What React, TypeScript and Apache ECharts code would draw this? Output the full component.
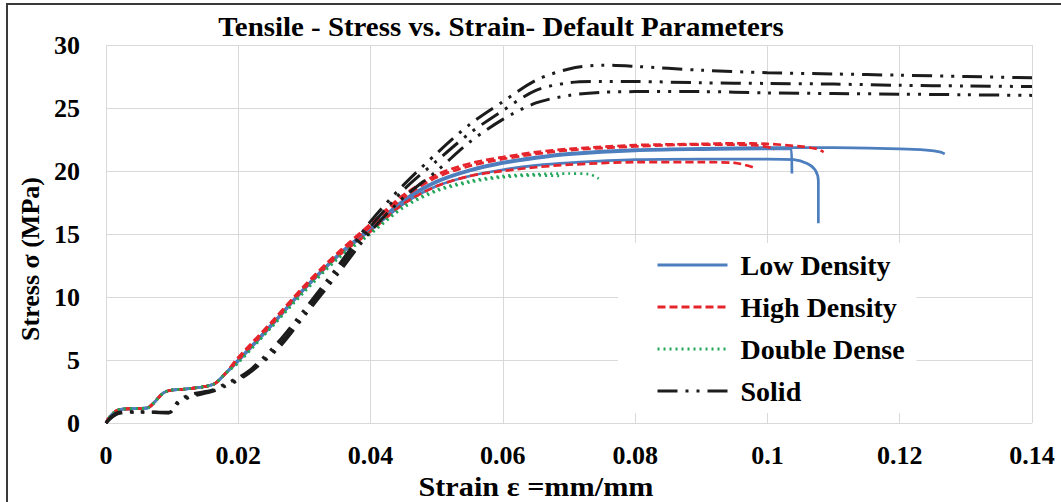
import React, { useEffect, useRef } from "react";
import * as echarts from "echarts";

type Pt = [number, number];

const xTicks = [0, 0.02, 0.04, 0.06, 0.08, 0.1, 0.12, 0.14];
const yTicks = [0, 5, 10, 15, 20, 25, 30];

const legendNames = ["Low Density", "High Density", "Double Dense", "Solid"];

// shared toe region of the coloured specimens
const colouredToe: Pt[] = [
  [0, 0], [0.0005, 0.45], [0.0015, 0.95], [0.0025, 1.1], [0.005, 1.15], [0.0063, 1.2],
  [0.0075, 1.75], [0.0087, 2.4], [0.0098, 2.6], [0.012, 2.7], [0.015, 2.9], [0.0165, 3.15], [0.018, 3.9],
];

const lowDensity1: Pt[] = [
  [0.02, 5.0], [0.025, 7.8], [0.03, 10.7], [0.035, 13.3], [0.04, 15.5], [0.045, 17.7], [0.05, 19.2],
  [0.055, 20.1], [0.06, 20.7], [0.065, 21.1], [0.07, 21.4], [0.08, 21.7], [0.09, 21.8], [0.1, 21.85],
  [0.11, 21.85], [0.12, 21.75], [0.124, 21.65], [0.1262, 21.5], [0.1268, 21.35],
];
const lowDensity2: Pt[] = [
  [0.02, 5.0], [0.025, 7.8], [0.03, 10.7], [0.035, 13.3], [0.04, 15.5], [0.045, 17.6], [0.05, 19.1],
  [0.055, 20.0], [0.06, 20.6], [0.065, 21.0], [0.07, 21.3], [0.08, 21.6], [0.09, 21.7], [0.1, 21.75],
  [0.1036, 21.75], [0.1037, 19.8],
];
const lowDensity3: Pt[] = [
  [0.02, 4.9], [0.025, 7.7], [0.03, 10.6], [0.035, 13.2], [0.04, 15.3], [0.045, 17.4], [0.05, 18.8],
  [0.055, 19.6], [0.06, 20.1], [0.065, 20.45], [0.07, 20.65], [0.08, 20.9], [0.09, 20.95], [0.1, 20.95],
  [0.104, 20.9], [0.106, 20.6], [0.1072, 20.1], [0.1077, 19.2], [0.1077, 15.85],
];

const highDensity1: Pt[] = [
  [0.02, 5.2], [0.025, 8.0], [0.03, 10.9], [0.035, 13.5], [0.04, 15.8], [0.045, 18.1], [0.05, 19.7],
  [0.055, 20.6], [0.06, 21.1], [0.065, 21.5], [0.07, 21.75], [0.08, 22.05], [0.09, 22.15], [0.095, 22.2],
  [0.1, 22.15], [0.105, 21.95], [0.1075, 21.75], [0.1085, 21.5],
];
const highDensity2: Pt[] = [
  [0.02, 5.1], [0.025, 7.9], [0.03, 10.8], [0.035, 13.4], [0.04, 15.6], [0.045, 17.9], [0.05, 19.5],
  [0.055, 20.4], [0.06, 20.95], [0.065, 21.35], [0.07, 21.65], [0.08, 21.95], [0.09, 22.1], [0.098, 22.05],
  [0.1005, 21.85], [0.101, 21.65],
];
const highDensity3: Pt[] = [
  [0.02, 5.0], [0.025, 7.8], [0.03, 10.7], [0.035, 13.2], [0.04, 15.2], [0.045, 17.4], [0.05, 18.8],
  [0.055, 19.6], [0.06, 20.0], [0.065, 20.3], [0.07, 20.5], [0.08, 20.7], [0.09, 20.7], [0.095, 20.65],
  [0.0978, 20.3],
];

const doubleDense1: Pt[] = [
  [0.02, 4.8], [0.025, 7.6], [0.03, 10.5], [0.035, 13.1], [0.04, 15.1], [0.045, 17.2], [0.05, 18.5],
  [0.055, 19.2], [0.06, 19.6], [0.065, 19.75], [0.07, 19.8], [0.073, 19.75], [0.0745, 19.4],
];
const doubleDense2: Pt[] = [
  [0.02, 4.8], [0.025, 7.6], [0.03, 10.4], [0.035, 13.0], [0.04, 15.0], [0.045, 17.1], [0.05, 18.4],
  [0.055, 19.1], [0.06, 19.5], [0.065, 19.65], [0.069, 19.6],
];

const solid1: Pt[] = [
  [0, 0], [0.001, 0.6], [0.002, 0.85], [0.005, 0.9], [0.0095, 0.85], [0.011, 1.8], [0.013, 2.3],
  [0.016, 2.6], [0.018, 3.1], [0.02, 3.6], [0.022, 4.3], [0.026, 6.4], [0.03, 9.0], [0.035, 12.4],
  [0.04, 16.0], [0.045, 18.9], [0.05, 21.4], [0.055, 23.7], [0.06, 25.5], [0.065, 27.2], [0.07, 28.1],
  [0.075, 28.4], [0.08, 28.3], [0.09, 28.0], [0.1, 27.8], [0.11, 27.7], [0.12, 27.6], [0.13, 27.5], [0.14, 27.4],
];
const solid2: Pt[] = [
  [0, 0], [0.001, 0.55], [0.002, 0.8], [0.005, 0.88], [0.0095, 0.82], [0.011, 1.7], [0.013, 2.2],
  [0.016, 2.55], [0.018, 3.0], [0.02, 3.5], [0.022, 4.2], [0.026, 6.1], [0.03, 8.7], [0.035, 12.1],
  [0.04, 15.6], [0.045, 18.5], [0.05, 20.8], [0.055, 23.0], [0.06, 24.8], [0.065, 26.4], [0.07, 27.0],
  [0.075, 27.1], [0.08, 27.1], [0.09, 27.0], [0.1, 26.95], [0.11, 26.9], [0.12, 26.8], [0.13, 26.75], [0.14, 26.7],
];
const solid3: Pt[] = [
  [0, 0], [0.001, 0.5], [0.002, 0.78], [0.005, 0.85], [0.0095, 0.8], [0.011, 1.6], [0.013, 2.1],
  [0.016, 2.5], [0.018, 2.9], [0.02, 3.4], [0.022, 4.1], [0.026, 5.9], [0.03, 8.5], [0.035, 11.8],
  [0.04, 15.2], [0.045, 17.9], [0.05, 20.0], [0.055, 22.3], [0.06, 24.1], [0.065, 25.4], [0.07, 26.0],
  [0.075, 26.25], [0.08, 26.3], [0.09, 26.3], [0.1, 26.2], [0.11, 26.15], [0.12, 26.1], [0.13, 26.05], [0.14, 26.0],
];

const FONT = '"Liberation Serif", "Times New Roman", serif';
const BLUE = "#4d7fbf";
const RED = "#e5242c";
const GREEN = "#22a65a";
const BLACK = "#1c1c1c";

export default function App() {
  const ref = useRef<HTMLDivElement>(null);

  useEffect(() => {
    document.body.style.margin = "0";
    if (!ref.current) return;
    const chart = echarts.init(ref.current, null, { renderer: "svg" });

    const mk = (name: string, data: Pt[], color: string, type: any, width: number, withToe: boolean) => ({
      name,
      type: "line",
      data: withToe ? [...colouredToe, ...data] : data,
      showSymbol: false,
      symbol: "none",
      legendIcon: "none",
      smooth: 0.3,
      color,
      lineStyle: { color, width, type, cap: "butt" },
      emphasis: { disabled: true },
    });

    const solidDash = [20, 8, 3, 8, 3, 8];

    const series = [
      mk(legendNames[0], lowDensity1, BLUE, "solid", 2.7, true),
      mk(legendNames[0], lowDensity2, BLUE, "solid", 2.7, true),
      mk(legendNames[0], lowDensity3, BLUE, "solid", 2.7, true),
      mk(legendNames[1], highDensity1, RED, [8, 4], 2.7, true),
      mk(legendNames[1], highDensity2, RED, [8, 4], 2.7, true),
      mk(legendNames[1], highDensity3, RED, [8, 4], 2.7, true),
      mk(legendNames[2], doubleDense1, GREEN, [2, 4], 2.7, true),
      mk(legendNames[2], doubleDense2, GREEN, [2, 4], 2.7, true),
      mk(legendNames[3], solid1, BLACK, solidDash, 3, false),
      mk(legendNames[3], solid2, BLACK, solidDash, 3, false),
      mk(legendNames[3], solid3, BLACK, solidDash, 3, false),
    ];

    const labelStyle = { fontFamily: FONT, fontWeight: "bold", fontSize: 26, color: "#000" };

    chart.setOption({
      animation: false,
      backgroundColor: "#fff",
      grid: { left: 106, right: 29, top: 45, bottom: 79, containLabel: false },
      xAxis: {
        type: "value",
        min: xTicks[0],
        max: xTicks[xTicks.length - 1],
        interval: 0.02,
        axisLine: { show: false },
        axisTick: { show: false },
        splitLine: { show: true, lineStyle: { color: "#d9d9d9", width: 1 } },
        axisLabel: {
          ...labelStyle,
          margin: 19,
          formatter: (v: number) => String(Number(v.toFixed(2))),
        },
      },
      yAxis: {
        type: "value",
        min: yTicks[0],
        max: yTicks[yTicks.length - 1],
        interval: 5,
        axisLine: { show: false },
        axisTick: { show: false },
        splitLine: { show: true, lineStyle: { color: "#d9d9d9", width: 1 } },
        axisLabel: { ...labelStyle, margin: 26 },
      },
      legend: {
        orient: "vertical",
        left: 618,
        top: 243,
        padding: [7, 12, 7, 38],
        backgroundColor: "#fff",
        itemWidth: 70,
        itemHeight: 14,
        itemGap: 12,
        itemStyle: { opacity: 0 },
        lineStyle: { width: 3 },
        data: legendNames,
        textStyle: { ...labelStyle, fontSize: 28, lineHeight: 30, padding: [0, 0, 0, 8] },
      },
      graphic: [
        {
          type: "rect",
          shape: { x: 7, y: 4, width: 1100, height: 600 },
          style: { fill: "none", stroke: "#3a3a3a", lineWidth: 2 },
          silent: true,
          z: 100,
        },
        {
          type: "text",
          x: 501,
          y: 27,
          scaleX: 1.07,
          style: {
            text: "Tensile - Stress vs. Strain- Default Parameters",
            font: `bold 27px ${FONT}`,
            fill: "#000",
            textAlign: "center",
            textVerticalAlign: "middle",
          },
        },
        {
          type: "text",
          x: 536,
          y: 487,
          scaleX: 1.12,
          style: {
            text: "Strain ε =mm/mm",
            font: `bold 27px ${FONT}`,
            fill: "#000",
            textAlign: "center",
            textVerticalAlign: "middle",
          },
        },
        {
          type: "text",
          x: 30,
          y: 259,
          rotation: Math.PI / 2,
          style: {
            text: "Stress σ (MPa)",
            font: `bold 26px ${FONT}`,
            fill: "#000",
            textAlign: "center",
            textVerticalAlign: "middle",
          },
        },
      ],
      series,
    });

    return () => chart.dispose();
  }, []);

  return <div ref={ref} style={{ width: 1061, height: 502 }} />;
}
